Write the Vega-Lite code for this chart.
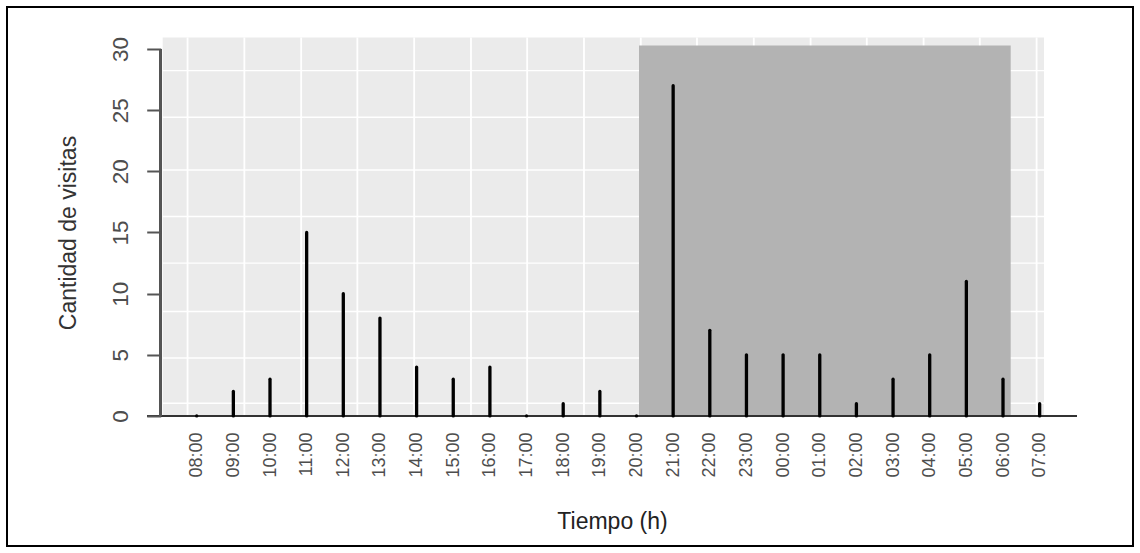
{
  "$schema": "https://vega.github.io/schema/vega-lite/v6.json",
  "width": 1126,
  "height": 539,
  "autosize": "none",
  "padding": 7,
  "background": "white",
  "config": {"view": {"stroke": "black", "strokeWidth": 2}, "font": "Liberation Sans"},
  "datasets": {
    "visitas": [
      {"hora": "2020-01-01T08:00", "visitas": 0},
      {"hora": "2020-01-01T09:00", "visitas": 2},
      {"hora": "2020-01-01T10:00", "visitas": 3},
      {"hora": "2020-01-01T11:00", "visitas": 15},
      {"hora": "2020-01-01T12:00", "visitas": 10},
      {"hora": "2020-01-01T13:00", "visitas": 8},
      {"hora": "2020-01-01T14:00", "visitas": 4},
      {"hora": "2020-01-01T15:00", "visitas": 3},
      {"hora": "2020-01-01T16:00", "visitas": 4},
      {"hora": "2020-01-01T17:00", "visitas": 0},
      {"hora": "2020-01-01T18:00", "visitas": 1},
      {"hora": "2020-01-01T19:00", "visitas": 2},
      {"hora": "2020-01-01T20:00", "visitas": 0},
      {"hora": "2020-01-01T21:00", "visitas": 27},
      {"hora": "2020-01-01T22:00", "visitas": 7},
      {"hora": "2020-01-01T23:00", "visitas": 5},
      {"hora": "2020-01-02T00:00", "visitas": 5},
      {"hora": "2020-01-02T01:00", "visitas": 5},
      {"hora": "2020-01-02T02:00", "visitas": 1},
      {"hora": "2020-01-02T03:00", "visitas": 3},
      {"hora": "2020-01-02T04:00", "visitas": 5},
      {"hora": "2020-01-02T05:00", "visitas": 11},
      {"hora": "2020-01-02T06:00", "visitas": 3},
      {"hora": "2020-01-02T07:00", "visitas": 1}
    ],
    "panel": [{"desde": "2020-01-01T07:04:20", "hasta": "2020-01-02T07:07:08", "techo": 30.94}],
    "noche": [{"desde": "2020-01-01T20:04:05", "hasta": "2020-01-02T06:12:36", "techo": 30.28}],
    "rejilla_x": [
      {"t": "2020-01-01T07:45"}, {"t": "2020-01-01T09:18"}, {"t": "2020-01-01T10:51"},
      {"t": "2020-01-01T12:23"}, {"t": "2020-01-01T13:56"}, {"t": "2020-01-01T15:29"},
      {"t": "2020-01-01T17:01"}, {"t": "2020-01-01T18:34"}, {"t": "2020-01-01T20:07"},
      {"t": "2020-01-01T21:39"}, {"t": "2020-01-01T23:12"}, {"t": "2020-01-02T00:45"},
      {"t": "2020-01-02T02:17"}, {"t": "2020-01-02T03:50"}, {"t": "2020-01-02T05:22"},
      {"t": "2020-01-02T06:55"}
    ],
    "rejilla_y": [
      {"v": 1.04}, {"v": 4.74}, {"v": 8.54}, {"v": 12.49},
      {"v": 16.31}, {"v": 20.11}, {"v": 24.42}, {"v": 28.23}
    ]
  },
  "layer": [
    {
      "data": {"name": "panel"},
      "mark": {"type": "rect", "color": "#EBEBEB"},
      "encoding": {
        "x": {
          "field": "desde", "type": "temporal",
          "scale": {"domain": [
            {"year": 2020, "month": 1, "date": 1, "hours": 2, "minutes": 49, "seconds": 26},
            {"year": 2020, "month": 1, "date": 2, "hours": 9, "minutes": 32, "seconds": 49}
          ]},
          "axis": {
            "title": "Tiempo (h)",
            "values": [
              {"year": 2020, "month": 1, "date": 1, "hours": 8},
              {"year": 2020, "month": 1, "date": 1, "hours": 9},
              {"year": 2020, "month": 1, "date": 1, "hours": 10},
              {"year": 2020, "month": 1, "date": 1, "hours": 11},
              {"year": 2020, "month": 1, "date": 1, "hours": 12},
              {"year": 2020, "month": 1, "date": 1, "hours": 13},
              {"year": 2020, "month": 1, "date": 1, "hours": 14},
              {"year": 2020, "month": 1, "date": 1, "hours": 15},
              {"year": 2020, "month": 1, "date": 1, "hours": 16},
              {"year": 2020, "month": 1, "date": 1, "hours": 17},
              {"year": 2020, "month": 1, "date": 1, "hours": 18},
              {"year": 2020, "month": 1, "date": 1, "hours": 19},
              {"year": 2020, "month": 1, "date": 1, "hours": 20},
              {"year": 2020, "month": 1, "date": 1, "hours": 21},
              {"year": 2020, "month": 1, "date": 1, "hours": 22},
              {"year": 2020, "month": 1, "date": 1, "hours": 23},
              {"year": 2020, "month": 1, "date": 2, "hours": 0},
              {"year": 2020, "month": 1, "date": 2, "hours": 1},
              {"year": 2020, "month": 1, "date": 2, "hours": 2},
              {"year": 2020, "month": 1, "date": 2, "hours": 3},
              {"year": 2020, "month": 1, "date": 2, "hours": 4},
              {"year": 2020, "month": 1, "date": 2, "hours": 5},
              {"year": 2020, "month": 1, "date": 2, "hours": 6},
              {"year": 2020, "month": 1, "date": 2, "hours": 7}
            ],
            "format": "%H:%M",
            "labelAngle": 270, "labelAlign": "right", "labelBaseline": "middle",
            "labelPadding": 16, "labelFontSize": 18, "labelColor": "#4d4d4d",
            "labelOverlap": false, "labelFlush": false,
            "ticks": false, "tickSize": 0, "domain": false, "grid": false,
            "offset": -130,
            "titleFontSize": 23, "titleFontWeight": "normal", "titleColor": "#222222",
            "titleX": 605, "titleY": 112.5, "titleAlign": "center", "titleBaseline": "alphabetic",
            "zindex": 1
          }
        },
        "x2": {"field": "hasta"},
        "y": {
          "field": "techo", "type": "quantitative",
          "scale": {"domain": [-10.63, 33.43], "nice": false, "zero": false},
          "axis": {
            "title": "Cantidad de visitas",
            "values": [0, 5, 10, 15, 20, 25, 30],
            "labelAngle": 270, "labelAlign": "center", "labelBaseline": "alphabetic",
            "labelPadding": 19, "labelFontSize": 22.5, "labelColor": "#4d4d4d",
            "labelOverlap": false, "labelFlush": false,
            "tickSize": 14, "tickWidth": 2, "tickColor": "#555555",
            "domain": false, "grid": false,
            "offset": -153.7,
            "titleFontSize": 23, "titleFontWeight": "normal", "titleColor": "#333333",
            "titleAngle": 270, "titleX": -85.7, "titleY": 225.5,
            "titleAlign": "center", "titleBaseline": "alphabetic",
            "zindex": 1
          }
        },
        "y2": {"datum": 0}
      }
    },
    {
      "data": {"name": "rejilla_x"},
      "mark": {"type": "rule", "color": "white", "strokeWidth": 1.8},
      "encoding": {
        "x": {"field": "t", "type": "temporal"},
        "y": {"datum": 0},
        "y2": {"datum": 30.94}
      }
    },
    {
      "data": {"name": "rejilla_y"},
      "mark": {"type": "rule", "color": "white", "strokeWidth": 1.4},
      "encoding": {
        "y": {"field": "v", "type": "quantitative"},
        "x": {"datum": {"year": 2020, "month": 1, "date": 1, "hours": 7, "minutes": 4, "seconds": 20}, "type": "temporal"},
        "x2": {"datum": {"year": 2020, "month": 1, "date": 2, "hours": 7, "minutes": 7, "seconds": 8}}
      }
    },
    {
      "data": {"name": "noche"},
      "mark": {"type": "rect", "color": "#B3B3B3"},
      "encoding": {
        "x": {"field": "desde", "type": "temporal"},
        "x2": {"field": "hasta"},
        "y": {"field": "techo", "type": "quantitative"},
        "y2": {"datum": 0}
      }
    },
    {
      "data": {"name": "visitas"},
      "mark": {"type": "rule", "color": "#333333", "strokeWidth": 1.5},
      "encoding": {
        "y": {"datum": 0},
        "x": {"datum": {"year": 2020, "month": 1, "date": 1, "hours": 6, "minutes": 39, "seconds": 7}, "type": "temporal"},
        "x2": {"datum": {"year": 2020, "month": 1, "date": 2, "hours": 8, "minutes": 0, "seconds": 40}}
      }
    },
    {
      "data": {"name": "visitas"},
      "mark": {"type": "rule", "color": "#555555", "strokeWidth": 2},
      "encoding": {
        "x": {"datum": {"year": 2020, "month": 1, "date": 1, "hours": 7, "minutes": 1, "seconds": 4}, "type": "temporal"},
        "y": {"datum": 0},
        "y2": {"datum": 30}
      }
    },
    {
      "data": {"name": "visitas"},
      "mark": {"type": "rule", "color": "black", "strokeWidth": 3.3, "strokeCap": "round"},
      "encoding": {
        "x": {"field": "hora", "type": "temporal"},
        "y": {"field": "visitas", "type": "quantitative"},
        "y2": {"datum": 0}
      }
    }
  ]
}
